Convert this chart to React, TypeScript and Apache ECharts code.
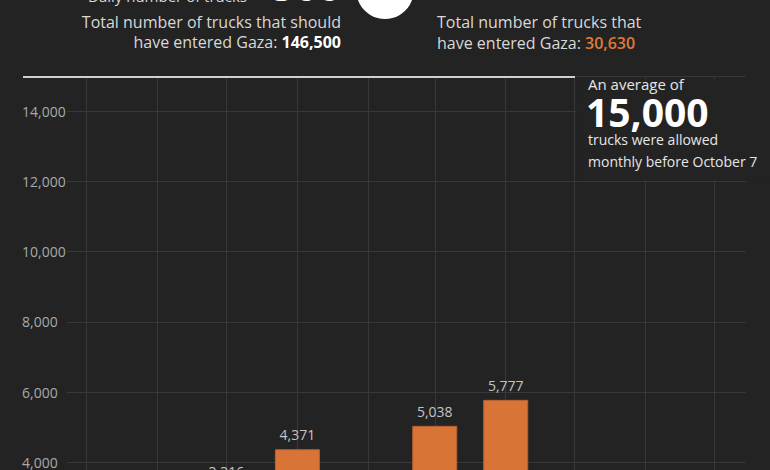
import React, { useEffect, useRef } from "react";
import * as echarts from "echarts";

const months = [
  "2023-10-01", "2023-11-01", "2023-12-01", "2024-01-01", "2024-02-01",
  "2024-03-01", "2024-04-01", "2024-05-01", "2024-06-01", "2024-07-01",
];
const trucks = [756, 1850, 3316, 4371, 2874, 5038, 5777, 2300, 2250, 2098];
const yMin = 0;
const yMax = 15000;
const yInterval = 2000;
// ECharts widens a bar axis by half a bar on each side; these limits allow for that
const axisMin = "2023-10-02 05:17";
const axisMax = "2024-07-05 02:30";

const BG = "#232323";
const GRID = "#38383b";
const ORANGE = "#d97437";
const FONT = "Open Sans";

const fmt = (v: number) => v.toLocaleString("en-US");

export default function App() {
  const ref = useRef<HTMLDivElement>(null);
  useEffect(() => {
    if (!ref.current) return;
    const chart = echarts.init(ref.current, null, { renderer: "svg" });
    const data = months.map((m, i) => [m, trucks[i]]);
    chart.setOption({
      animation: false,
      backgroundColor: BG,
      textStyle: { fontFamily: FONT },
      grid: { left: 67, right: 24, top: 75.9, bottom: 37.2 },
      xAxis: {
        type: "time",
        min: axisMin,
        max: axisMax,
        axisLine: { show: false },
        axisTick: { show: false },
        axisLabel: { show: false },
        splitLine: { show: false },
      },
      yAxis: {
        type: "value",
        min: yMin,
        max: yMax,
        interval: yInterval,
        axisLine: { show: false },
        axisTick: { show: false },
        splitLine: { show: true, lineStyle: { color: GRID, width: 1 } },
        axisLabel: {
          align: "left",
          margin: 45,
          color: "#a9a9a9",
          fontSize: 14,
          fontFamily: FONT,
          formatter: (v: number) => (v === yMax ? "" : fmt(v)),
        },
      },
      series: [
        {
          type: "bar",
          data,
          barWidth: 45,
          z: 3,
          itemStyle: { color: ORANGE, borderColor: "#b8622e", borderWidth: 1 },
          label: {
            show: true,
            position: "top",
            distance: 7.5,
            color: "#c4c4c4",
            fontSize: 14,
            fontFamily: FONT,
            formatter: (p: any) => fmt(p.value[1]),
          },
          markLine: {
            silent: true,
            z: 1,
            symbol: ["none", "none"],
            label: { show: false },
            lineStyle: { color: GRID, width: 1, type: "solid" },
            data: months.map((m) => ({ xAxis: m })),
          },
        },
      ],
      graphic: [
        {
          type: "line",
          z: 20,
          shape: { x1: 23, y1: 77, x2: 575, y2: 77 },
          style: { stroke: "#cfcfcf", lineWidth: 2 },
        },
        {
          type: "rect",
          z: 15,
          shape: { x: 576.5, y: 79, width: 200, height: 101.5 },
          style: { fill: BG },
        },
        {
          type: "circle",
          z: 20,
          shape: { cx: 385, cy: -9.7, r: 28.7 },
          style: { fill: "#ffffff" },
        },
        {
          type: "text",
          z: 20,
          x: 247,
          y: 3,
          style: {
            text: "Daily number of trucks",
            align: "right",
            verticalAlign: "bottom",
            fill: "#d8d8d8",
            font: `15px '${FONT}'`,
          },
        },
        {
          type: "text",
          z: 20,
          x: 272,
          y: 5,
          style: {
            text: "500",
            align: "left",
            verticalAlign: "bottom",
            fill: "#ffffff",
            font: `bold 40px '${FONT}'`,
          },
        },
        {
          type: "text",
          z: 20,
          x: 341,
          y: 22,
          style: {
            text: "Total number of trucks that should",
            align: "right",
            verticalAlign: "middle",
            fill: "#d8d8d8",
            font: `16px '${FONT}'`,
          },
        },
        {
          type: "text",
          z: 20,
          x: 341,
          y: 42,
          style: {
            text: "{a|have entered Gaza: }{b|146,500}",
            align: "right",
            verticalAlign: "middle",
            rich: {
              a: { fill: "#d8d8d8", fontSize: 16, fontFamily: FONT },
              b: { fill: "#ffffff", fontSize: 16, fontFamily: FONT, fontWeight: "bold" },
            },
          },
        },
        {
          type: "text",
          z: 20,
          x: 437,
          y: 22,
          style: {
            text: "Total number of trucks that",
            align: "left",
            verticalAlign: "middle",
            fill: "#d8d8d8",
            font: `16px '${FONT}'`,
          },
        },
        {
          type: "text",
          z: 20,
          x: 437,
          y: 43,
          style: {
            text: "{a|have entered Gaza: }{b|30,630}",
            align: "left",
            verticalAlign: "middle",
            rich: {
              a: { fill: "#d8d8d8", fontSize: 16, fontFamily: FONT },
              b: { fill: "#e07a38", fontSize: 16, fontFamily: FONT, fontWeight: 600 },
            },
          },
        },
        {
          type: "text",
          z: 20,
          x: 588,
          y: 84,
          style: {
            text: "An average of",
            align: "left",
            verticalAlign: "middle",
            fill: "#e6e6e6",
            font: `15px '${FONT}'`,
            lineHeight: 14,
          },
        },
        {
          type: "text",
          z: 20,
          x: 586,
          y: 111,
          style: {
            text: "15,000",
            align: "left",
            verticalAlign: "middle",
            fill: "#ffffff",
            font: `bold 39px '${FONT}'`,
            lineHeight: 26,
          },
        },
        {
          type: "text",
          z: 20,
          x: 588,
          y: 139,
          style: {
            text: "trucks were allowed",
            align: "left",
            verticalAlign: "middle",
            fill: "#e6e6e6",
            font: `14px '${FONT}'`,
            lineHeight: 14,
          },
        },
        {
          type: "text",
          z: 20,
          x: 588,
          y: 161,
          style: {
            text: "monthly before October 7",
            align: "left",
            verticalAlign: "middle",
            fill: "#e6e6e6",
            font: `14px '${FONT}'`,
            lineHeight: 14,
          },
        },
      ],
    });
    return () => chart.dispose();
  }, []);
  return (
    <div
      ref={ref}
      style={{ position: "fixed", left: 0, top: 0, width: 770, height: 640, background: BG }}
    />
  );
}
